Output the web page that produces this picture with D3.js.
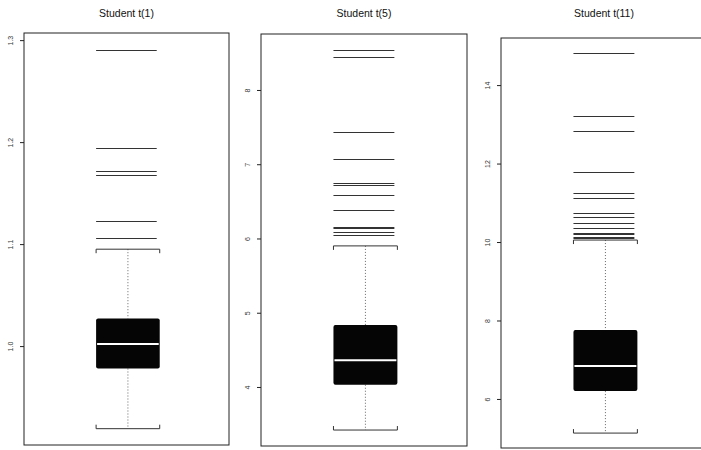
<!DOCTYPE html>
<html lang="en">
<head>
  <meta charset="UTF-8">
  <title>Student t boxplots</title>
  <script src="https://d3js.org/d3.v7.min.js"></script>
  <style>
    body { margin: 0; background: #fff; font-family: "Liberation Sans", Arial, sans-serif; }
    .title { font-size: 10.5px; fill: #111; }
    .axis text { font-size: 7px; fill: #333; }
  </style>
</head>
<body>
<div id="chart"></div>
<script>
const titles = ["Student t(1)", "Student t(5)", "Student t(11)"];
const whiskerLow = [0.919, 3.42, 5.13];
const q1 = [0.978, 4.03, 6.20];
const medians = [1.002, 4.36, 6.84];
const q3 = [1.027, 4.835, 7.76];
const whiskerHigh = [1.095, 5.90, 10.05];
const outliers = [
  [1.290, 1.194, 1.172, 1.168, 1.123, 1.106],
  [8.54, 8.44, 7.43, 7.07, 6.75, 6.72, 6.58, 6.38, 6.155, 6.135, 6.09, 6.05],
  [14.82, 13.21, 12.83, 11.78, 11.25, 11.12, 10.75, 10.65, 10.49, 10.37, 10.24, 10.2, 10.14, 10.09]
];
const tickValues = [[1.0, 1.1, 1.2, 1.3], [4, 5, 6, 7, 8], [6, 8, 10, 12, 14]];
const tickFormats = [".1f", "d", "d"];
const yDomains = [[0.903, 1.307], [3.205, 8.754], [4.75, 15.2]];

const width = 701, height = 450;
// frame of each panel in pixels
const frames = [
  { left: 24, right: 229, top: 33, bottom: 445 },
  { left: 261, right: 467, top: 34, bottom: 446 },
  { left: 501, right: 707, top: 38, bottom: 448 }
];

const svg = d3.select("#chart")
  .append("svg")
  .attr("width", width)
  .attr("height", height);

titles.forEach((title, i) => {
  const f = frames[i];
  const y = d3.scaleLinear().domain(yDomains[i]).range([f.bottom, f.top]);
  const x = d3.scaleBand().domain([title]).range([f.left, f.right])
    .paddingInner(0.55).paddingOuter(0.5).align(0.51);
  const x0 = x(title), x1 = x0 + x.bandwidth(), xm = (x0 + x1) / 2;

  const g = svg.append("g");

  // title
  g.append("text")
    .attr("class", "title")
    .attr("x", (f.left + f.right) / 2)
    .attr("y", 17)
    .attr("text-anchor", "middle")
    .text(title);

  // frame
  g.append("rect")
    .attr("x", f.left)
    .attr("y", f.top)
    .attr("width", f.right - f.left)
    .attr("height", f.bottom - f.top)
    .attr("fill", "none")
    .attr("stroke", "#222")
    .attr("stroke-width", 1);

  // y axis
  const axis = g.append("g")
    .attr("class", "axis")
    .attr("transform", `translate(${f.left},0)`)
    .call(d3.axisLeft(y).tickValues(tickValues[i]).tickSize(4)
      .tickFormat(d3.format(tickFormats[i])));
  axis.select(".domain").remove();
  axis.selectAll("line").attr("stroke", "#222");
  axis.selectAll("text")
    .attr("transform", "rotate(-90)")
    .attr("text-anchor", "middle")
    .attr("x", 0)
    .attr("y", -11)
    .attr("dy", null);

  // whiskers (dotted)
  g.append("line")
    .attr("x1", xm).attr("x2", xm)
    .attr("y1", y(whiskerHigh[i])).attr("y2", y(q3[i]))
    .attr("stroke", "#666").attr("stroke-dasharray", "1,2");
  g.append("line")
    .attr("x1", xm).attr("x2", xm)
    .attr("y1", y(q1[i])).attr("y2", y(whiskerLow[i]))
    .attr("stroke", "#666").attr("stroke-dasharray", "1,2");

  // caps with small bracket ends pointing toward the box
  const capHi = y(whiskerHigh[i]), capLo = y(whiskerLow[i]);
  g.append("path")
    .attr("d", `M${x0},${capHi + 4}V${capHi}H${x1}V${capHi + 4}`)
    .attr("fill", "none").attr("stroke", "#333");
  g.append("path")
    .attr("d", `M${x0},${capLo - 4}V${capLo}H${x1}V${capLo - 4}`)
    .attr("fill", "none").attr("stroke", "#333");

  // box
  g.append("rect")
    .attr("x", x0)
    .attr("y", y(q3[i]))
    .attr("width", x1 - x0)
    .attr("height", y(q1[i]) - y(q3[i]))
    .attr("rx", 2)
    .attr("fill", "#050505");

  // median
  g.append("line")
    .attr("x1", x0 + 1).attr("x2", x1 - 1)
    .attr("y1", y(medians[i])).attr("y2", y(medians[i]))
    .attr("stroke", "#fff").attr("stroke-width", 2);

  // outliers drawn as lines
  g.selectAll(".out")
    .data(outliers[i])
    .enter()
    .append("line")
    .attr("x1", x0).attr("x2", x1 - 3)
    .attr("y1", d => Math.round(y(d)) + 0.5)
    .attr("y2", d => Math.round(y(d)) + 0.5)
    .attr("stroke", "#333")
    .attr("stroke-width", 1);
});
</script>
</body>
</html>
